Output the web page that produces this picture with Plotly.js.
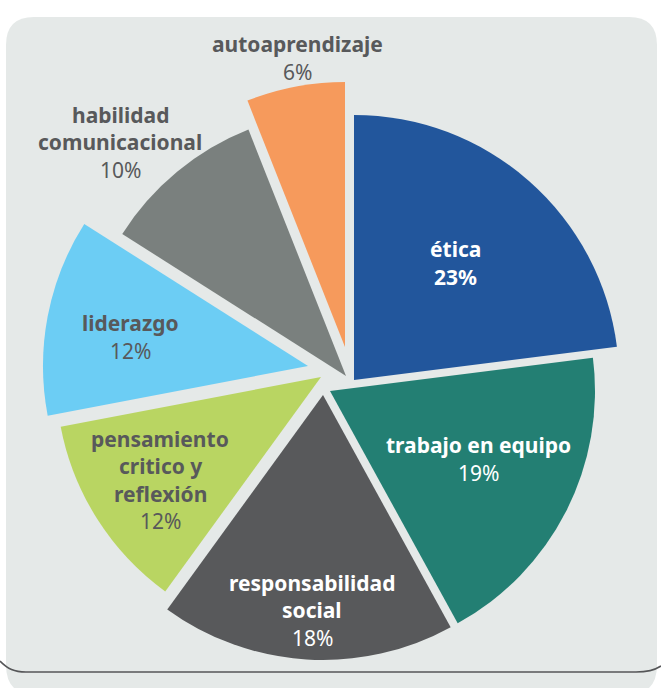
<!DOCTYPE html>
<html>
<head>
<meta charset="utf-8">
<script src="https://cdn.plot.ly/plotly-3.0.1.min.js"></script>
<style>html,body{margin:0;padding:0;background:#fff;}#chart{width:661px;height:688px;}</style>
</head>
<body>
<div id="chart"></div>
<script>
// ---- data ----
const categories = ['ética', 'trabajo en equipo', 'responsabilidad social', 'pensamiento critico y reflexión', 'liderazgo', 'habilidad comunicacional', 'autoaprendizaje'];
const values = [23, 19, 18, 12, 12, 10, 6];
const labelLines = [['ética'], ['trabajo en equipo'], ['responsabilidad', 'social'], ['pensamiento', 'critico y', 'reflexión'], ['liderazgo'], ['habilidad', 'comunicacional'], ['autoaprendizaje']];

// ---- styles / layout ----
const colors = ['#22569c', '#237f73', '#58595b', '#b9d562', '#6ccdf4', '#7a807e', '#f69a5c'];
const textColors = ['#ffffff', '#ffffff', '#ffffff', '#58595b', '#58595b', '#58595b', '#58595b'];
const boldPct = [true, false, false, false, false, false, false];
const sliceCenters = [[354, 380], [330, 391], [323, 395], [321, 377], [308, 366], [346, 376], [345, 347]];
const labelCenters = [[455, 263], [478, 459], [312, 610], [160, 480], [130, 337], [120, 142], [297, 58]];
const W = 661, H = 688, R = 265, LINE = 27.5;
const bg = '#e5e9e8';
const FONT = 'Noto Sans, Open Sans, sans-serif';

const total = values.reduce((a, b) => a + b, 0);
const traces = categories.map((c, i) => {
  const [cx, cy] = sliceCenters[i];
  return {
    type: 'pie',
    values: values,
    labels: categories,
    sort: false,
    direction: 'clockwise',
    rotation: 0,
    textinfo: 'none',
    hoverinfo: 'label+percent',
    showlegend: false,
    marker: {
      colors: colors.map((col, j) => j === i ? col : 'rgba(0,0,0,0)'),
      line: {width: 0}
    },
    domain: {
      x: [(cx - R) / W, (cx + R) / W],
      y: [1 - (cy + R) / H, 1 - (cy - R) / H]
    }
  };
});

const annotations = [];
categories.forEach((c, i) => {
  const pct = Math.round(values[i] / total * 100) + '%';
  const lines = labelLines[i].map(t => '<b>' + t + '</b>').concat([boldPct[i] ? '<b>' + pct + '</b>' : pct]);
  const [lx, ly] = labelCenters[i];
  const y0 = ly - (lines.length - 1) * LINE / 2;
  lines.forEach((t, k) => {
    annotations.push({
      x: lx, y: y0 + k * LINE, xref: 'x', yref: 'y',
      text: t, showarrow: false, xanchor: 'center', yanchor: 'middle',
      font: {family: FONT, size: 21, color: textColors[i]}
    });
  });
});

const shapes = [
  {
    type: 'path', xref: 'x', yref: 'y', layer: 'below',
    path: 'M 6,45 Q 6,17 34,17 L 629,17 Q 657,17 657,45 L 657,665 Q 657,695 627,695 L 36,695 Q 6,695 6,665 Z',
    fillcolor: bg, line: {width: 0}
  },
  {
    type: 'path', xref: 'x', yref: 'y', layer: 'below',
    path: 'M 0,661 C 8,669 14,672 26,672 L 636,672 C 648,672 655,670 661,666',
    line: {color: '#555658', width: 1.6}
  }
];

const layout = {
  width: W, height: H,
  margin: {l: 0, r: 0, t: 0, b: 0},
  paper_bgcolor: '#ffffff',
  plot_bgcolor: 'rgba(0,0,0,0)',
  showlegend: false,
  xaxis: {range: [0, W], visible: false, fixedrange: true},
  yaxis: {range: [H, 0], visible: false, fixedrange: true},
  shapes: shapes,
  annotations: annotations
};

Plotly.newPlot('chart', traces, layout, {displayModeBar: false, staticPlot: true});
</script>
</body>
</html>
